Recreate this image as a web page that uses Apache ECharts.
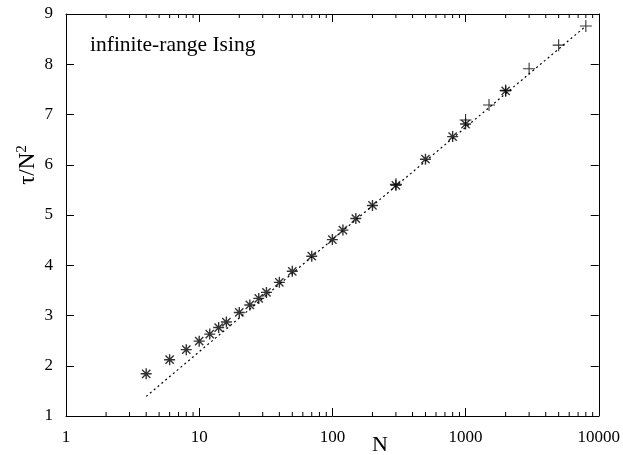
<!DOCTYPE html>
<html>
<head>
<meta charset="utf-8">
<script src="https://cdn.jsdelivr.net/npm/echarts@6/dist/echarts.min.js"></script>
<style>
html,body{margin:0;padding:0;background:#fff;}
#c{width:623px;height:455px;}
</style>
</head>
<body>
<div id="c"></div>
<script>
// ---- data ----
const starN   = [4, 6, 8, 10, 12, 14, 16, 20, 24, 28, 32, 40, 50, 70, 100, 120, 150, 200, 300, 500, 800, 1000, 2000];
const starTau = [1.84, 2.12, 2.32, 2.49, 2.63, 2.76, 2.87, 3.06, 3.21, 3.34, 3.46, 3.66, 3.88, 4.18, 4.51, 4.70, 4.93, 5.19, 5.59, 6.11, 6.56, 6.81, 7.47];
const plusN   = [300, 1000, 1500, 2000, 3000, 5000, 8000];
const plusTau = [5.61, 6.89, 7.19, 7.48, 7.91, 8.38, 8.76];
const fitN    = [4, 8000];
const fitTau  = [1.39, 8.76];
const xTicks  = [1, 10, 100, 1000, 10000];
const yTicks  = [1, 2, 3, 4, 5, 6, 7, 8, 9];
const minorX  = [2,3,4,5,6,7,8,9,20,30,40,50,60,70,80,90,200,300,400,500,600,700,800,900,2000,3000,4000,5000,6000,7000,8000,9000];

const FONT = 'Liberation Serif';
const chart = echarts.init(document.getElementById('c'), null, {renderer: 'canvas'});

const zip = (a, b) => a.map((v, i) => [v, b[i]]);
const starPath = 'path://M0,-1L0,1M-1,0L1,0M-0.75,-0.75L0.75,0.75M-0.75,0.75L0.75,-0.75';
const plusPath = 'path://M0,-1L0,1M-1,0L1,0';

const axisCommon = {
  axisLine: {show: true, lineStyle: {color: '#000', width: 1}},
  axisTick: {show: true, inside: true, length: 8, lineStyle: {color: '#000', width: 1}},
  splitLine: {show: false},
};

chart.setOption({
  backgroundColor: '#fff',
  animation: false,
  grid: {left: 66, right: 21, top: 14, bottom: 39},
  xAxis: [
    Object.assign({
      type: 'log', logBase: 10, min: xTicks[0], max: xTicks[xTicks.length - 1], position: 'bottom',
      axisLabel: {show: true, color: '#000', fontFamily: FONT, fontSize: 17, margin: 13,
        formatter: v => String(Math.round(v))}
    }, axisCommon),
    Object.assign({
      type: 'log', logBase: 10, min: xTicks[0], max: xTicks[xTicks.length - 1], position: 'top',
      axisLabel: {show: false}
    }, axisCommon)
  ],
  yAxis: [
    Object.assign({
      type: 'value', min: yTicks[0], max: yTicks[yTicks.length - 1], interval: 1, position: 'left',
      axisLabel: {show: true, color: '#000', fontFamily: FONT, fontSize: 17, margin: 13}
    }, axisCommon),
    Object.assign({
      type: 'value', min: yTicks[0], max: yTicks[yTicks.length - 1], interval: 1, position: 'right',
      axisLabel: {show: false}
    }, axisCommon)
  ],
  graphic: [
    {type: 'text', left: 90, top: 34, style: {text: 'infinite-range Ising', fontFamily: FONT, fontSize: 21.5, fill: '#000'}},
    {type: 'text', x: 380, y: 445, style: {text: 'N', fontFamily: FONT, fontSize: 22, fill: '#000', align: 'center', verticalAlign: 'middle'}},
    {type: 'text', x: 27, y: 165, rotation: Math.PI / 2,
      style: {text: '{a|τ/N}{b|2}', fill: '#000', align: 'center', verticalAlign: 'middle',
        rich: {a: {fontFamily: FONT, fontSize: 23, lineHeight: 24, verticalAlign: 'bottom'},
               b: {fontFamily: FONT, fontSize: 15, lineHeight: 15, verticalAlign: 'top'}}}}
  ],
  series: [
    {
      type: 'custom', xAxisIndex: 0, yAxisIndex: 0, silent: true,
      data: minorX.map(v => [v, 1]),
      encode: {x: 0, y: 1},
      renderItem: function (params, api) {
        const v = api.value(0);
        const b = api.coord([v, yTicks[0]]);
        const t = api.coord([v, yTicks[yTicks.length - 1]]);
        const st = {stroke: '#000', lineWidth: 1};
        return {type: 'group', children: [
          {type: 'line', shape: {x1: b[0], y1: b[1], x2: b[0], y2: b[1] - 4}, style: st},
          {type: 'line', shape: {x1: t[0], y1: t[1], x2: t[0], y2: t[1] + 4}, style: st}
        ]};
      },
      z: 1
    },
    {
      type: 'line', xAxisIndex: 0, yAxisIndex: 0,
      data: zip(fitN, fitTau), symbol: 'none',
      lineStyle: {color: '#000', width: 1.2, type: [2, 3]}, z: 2
    },
    {
      type: 'scatter', xAxisIndex: 0, yAxisIndex: 0,
      data: zip(starN, starTau), symbol: starPath, symbolSize: 11,
      itemStyle: {color: 'none', borderColor: '#000', borderWidth: 1.4}, z: 3
    },
    {
      type: 'scatter', xAxisIndex: 0, yAxisIndex: 0,
      data: zip(plusN, plusTau), symbol: plusPath, symbolSize: 12,
      itemStyle: {color: 'none', borderColor: '#000', borderWidth: 1.1}, z: 3
    }
  ]
});
</script>
</body>
</html>
